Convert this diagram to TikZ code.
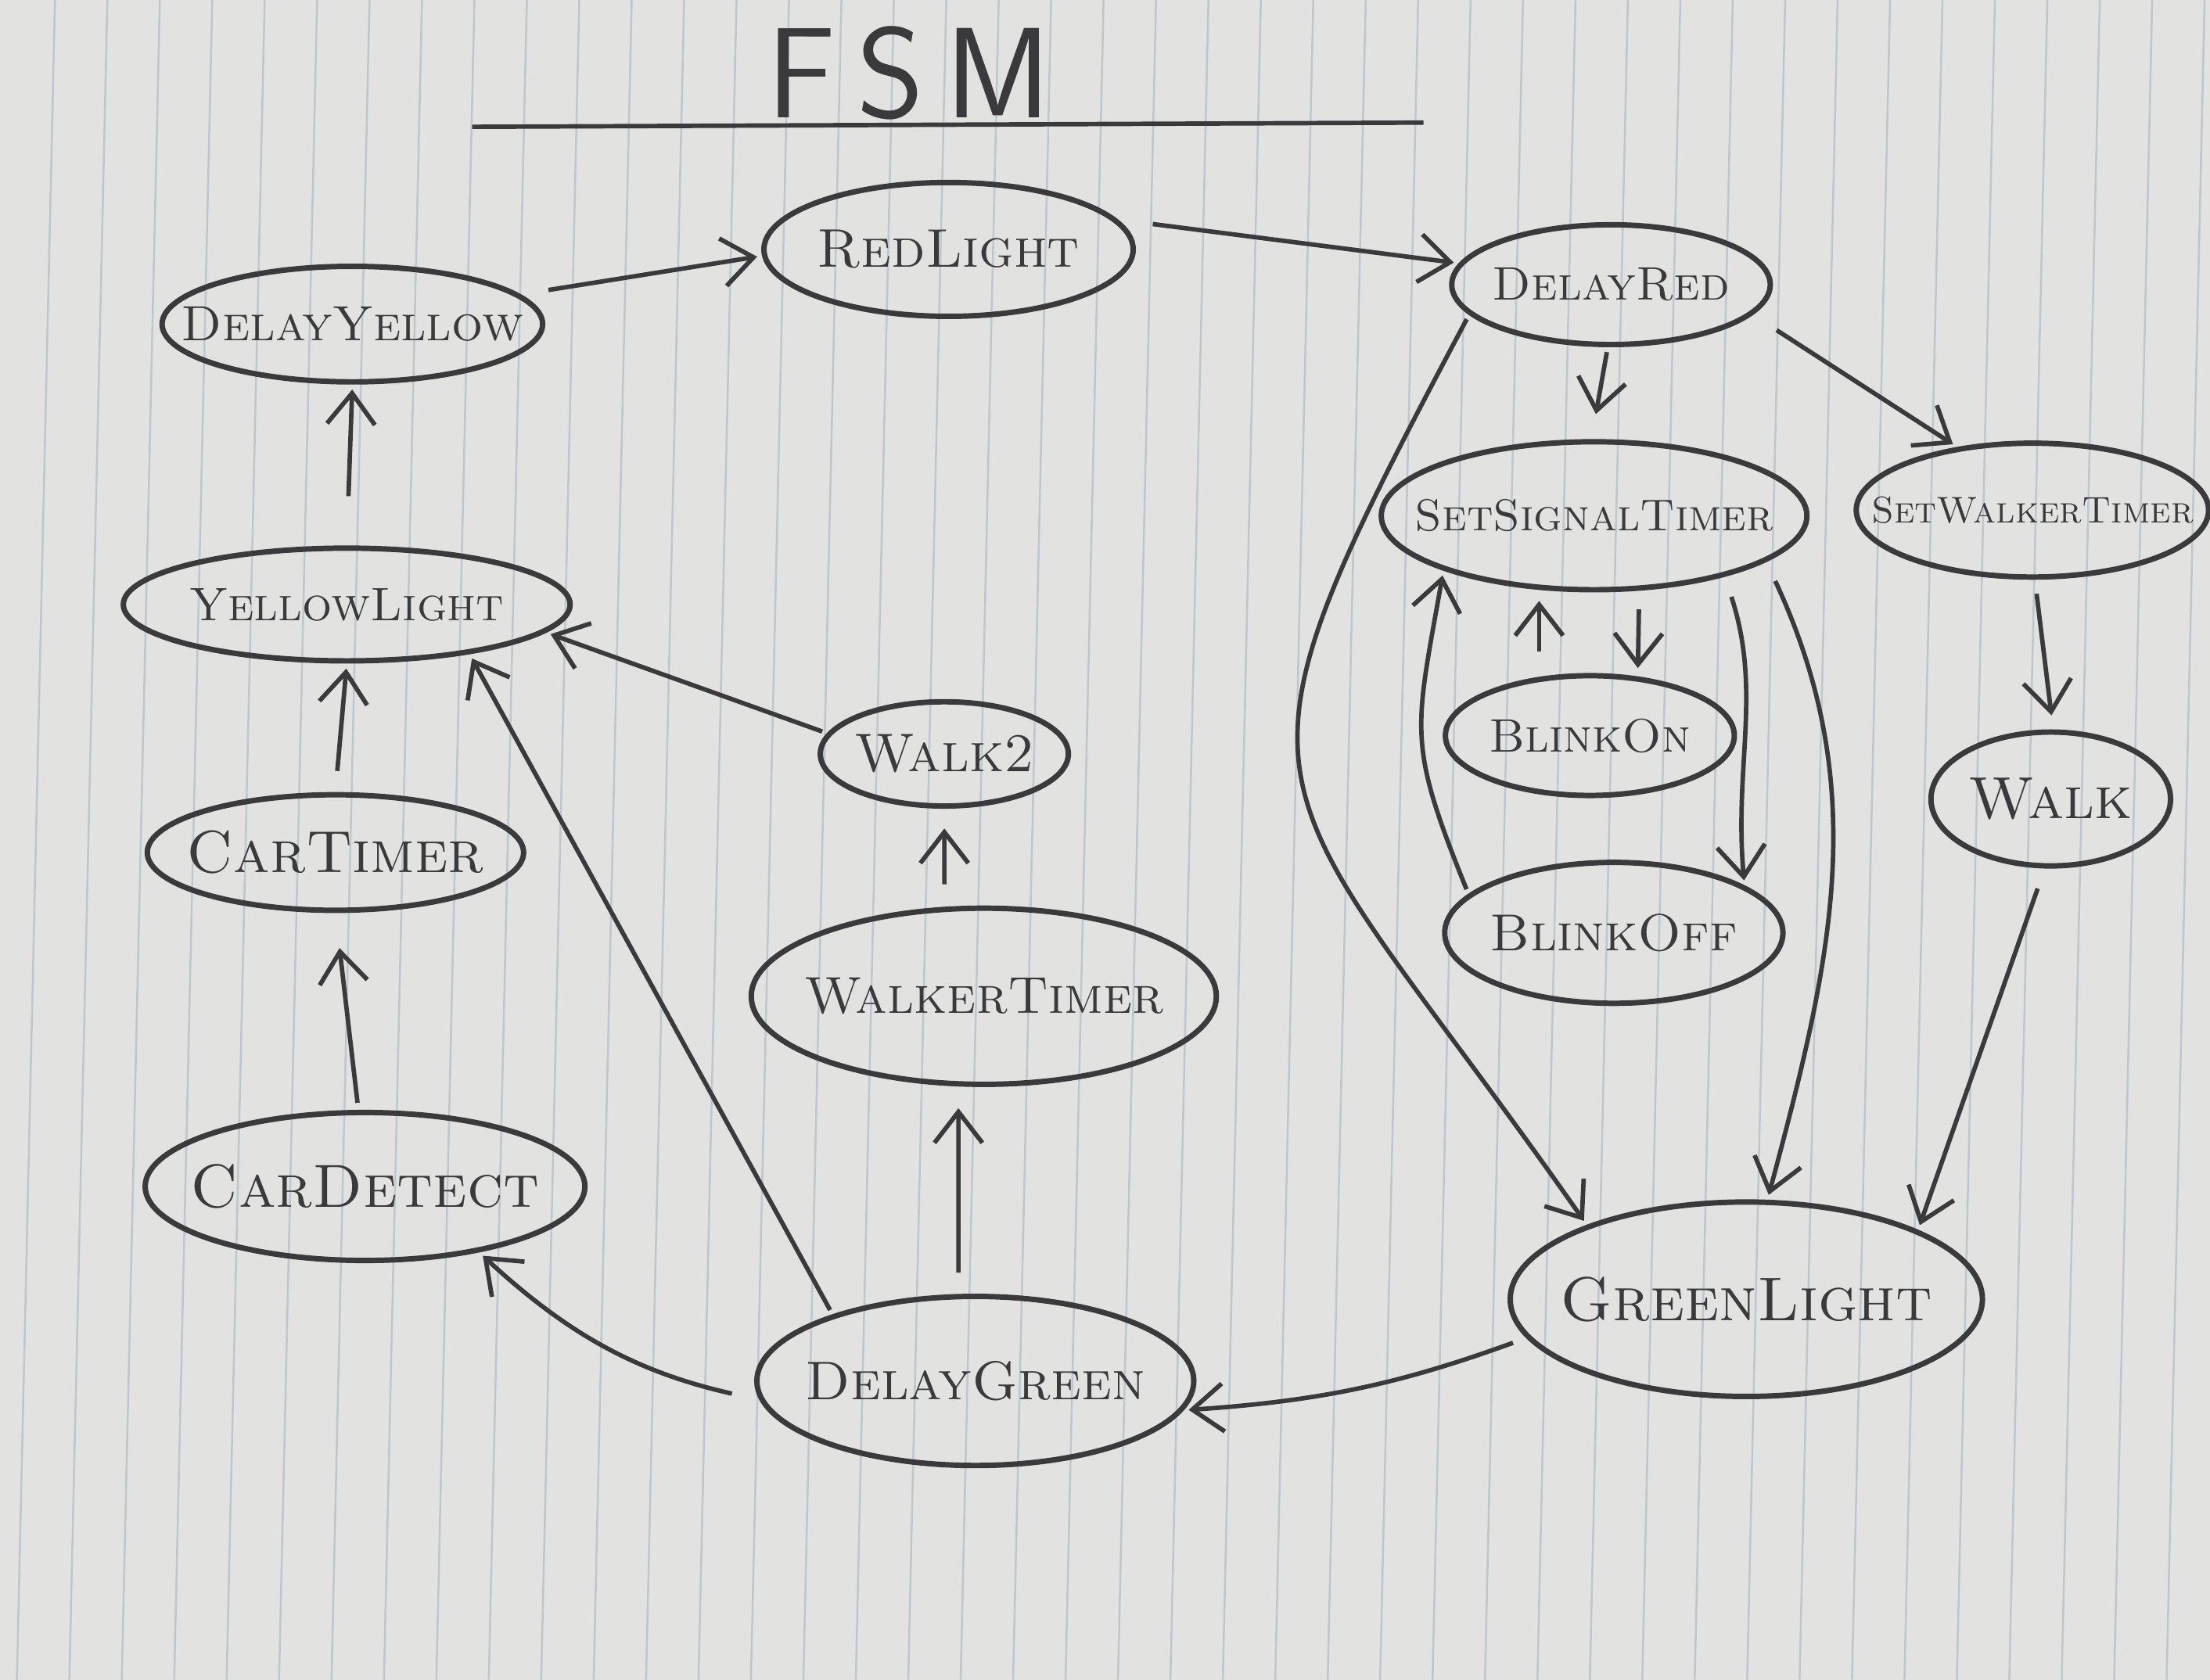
\documentclass[tikz,border=0pt]{standalone}
\usepackage{tikz}
\usetikzlibrary{shapes.geometric, arrows.meta}
\definecolor{ink}{RGB}{58,58,60}
\definecolor{paper}{RGB}{226,227,225}
\definecolor{rule}{RGB}{188,200,208}
\newcommand{\handfont}[1]{\fontsize{#1}{#1}\selectfont\scshape}
\newcommand{\sname}[1]{\makebox[0pt]{#1}}
\tikzset{
  fsmstate/.style={ellipse, draw=ink, line width=1.1pt, inner sep=0pt, text=ink},
  trans/.style={draw=ink, line width=0.9pt, -{Straight Barb[length=2.2mm, width=3.4mm]}, shorten <=1pt, shorten >=1pt}
}

\begin{document}
\begin{tikzpicture}
\useasboundingbox (0,0) rectangle (15.68,-11.92);
\fill[paper] (0,0) rectangle (15.68,-11.92);
\foreach \i in {0,...,41}
\draw[rule, line width=0.4pt] ({0.39+0.372*\i},0) -- ({0.12+0.372*\i},-11.92);

\node[text=ink, font=\fontsize{26}{26}\selectfont\sffamily] (title) at (6.45,-0.52) {F\hspace{1.5mm}S\hspace{1.5mm}M};
\draw[ink, line width=0.9pt] (3.35,-0.90) -- (10.10,-0.87);

\node[fsmstate, minimum width=2.62cm, minimum height=0.95cm, font=\handfont{11}] (redlight) at (6.73,-1.77) {\sname{RedLight}};
\node[fsmstate, minimum width=2.70cm, minimum height=0.82cm, font=\handfont{10}] (delayyellow) at (2.50,-2.30) {\sname{DelayYellow}};
\node[fsmstate, minimum width=2.26cm, minimum height=0.85cm, font=\handfont{9.5}] (delayred) at (11.43,-2.02) {\sname{DelayRed}};
\node[fsmstate, minimum width=3.02cm, minimum height=1.05cm, font=\handfont{9}] (setsignal) at (11.31,-3.66) {\sname{SetSignalTimer}};
\node[fsmstate, minimum width=2.50cm, minimum height=0.95cm, font=\handfont{7.5}] (setwalker) at (14.42,-3.62) {\sname{SetWalkerTimer}};
\node[fsmstate, minimum width=3.17cm, minimum height=0.80cm, font=\handfont{9.5}] (yellowlight) at (2.46,-4.29) {\sname{YellowLight}};
\node[fsmstate, minimum width=1.76cm, minimum height=0.74cm, font=\handfont{11}] (walk2) at (6.70,-5.35) {\sname{Walk2}};
\node[fsmstate, minimum width=2.05cm, minimum height=0.85cm, font=\handfont{9.5}] (blinkon) at (11.28,-5.22) {\sname{BlinkOn}};
\node[fsmstate, minimum width=1.70cm, minimum height=0.95cm, font=\handfont{12}] (walk) at (14.55,-5.67) {\sname{Walk}};
\node[fsmstate, minimum width=2.67cm, minimum height=0.82cm, font=\handfont{12}] (cartimer) at (2.38,-6.05) {\sname{CarTimer}};
\node[fsmstate, minimum width=2.40cm, minimum height=1.00cm, font=\handfont{10.5}] (blinkoff) at (11.45,-6.62) {\sname{BlinkOff}};
\node[fsmstate, minimum width=3.30cm, minimum height=1.25cm, font=\handfont{10.5}] (walkertimer) at (6.98,-7.07) {\sname{WalkerTimer}};
\node[fsmstate, minimum width=3.12cm, minimum height=1.05cm, font=\handfont{12.3}] (cardetect) at (2.59,-8.42) {\sname{CarDetect}};
\node[fsmstate, minimum width=3.35cm, minimum height=1.38cm, font=\handfont{12.5}] (greenlight) at (12.39,-9.22) {\sname{GreenLight}};
\node[fsmstate, minimum width=3.10cm, minimum height=1.20cm, font=\handfont{11}] (delaygreen) at (6.92,-9.80) {\sname{DelayGreen}};

\draw[trans, shorten <=3.5mm] (yellowlight.north) -- (delayyellow.south);
\draw[trans, shorten <=1.5mm] (cartimer.north) -- (yellowlight.south);
\draw[trans, shorten <=0.5mm, shorten >=2.5mm] (cardetect.95) -- (cartimer.south);
\draw[trans, shorten <=2mm] (delayyellow.10) -- (redlight.182);
\draw[trans, shorten <=2.5mm] (redlight.10) -- (delayred.172);
\draw[trans, shorten >=1.8mm] (delayred.-93) -- (setsignal.92);
\draw[trans, shorten <=2mm] (delayred.-12) -- (setwalker.140);
\draw[trans] (delayred.-168) to[out=-118, in=125, looseness=1.6] (greenlight.155);
\draw[trans, shorten <=1.5mm] (setsignal.-25) to[out=-72, in=95] (blinkoff.20);
\draw[trans, shorten <=1.5mm] (setsignal.-15) to[out=-65, in=75] (greenlight.78);
\draw[trans, shorten <=1.2mm] ([xshift=3.2mm]setsignal.south) -- ([xshift=3.4mm]blinkon.north);
\draw[trans, shorten <=1.5mm, shorten >=0.6mm] ([xshift=-3.6mm]blinkon.north) -- ([xshift=-3.9mm]setsignal.south);
\draw[trans] (blinkoff.165) to[out=112, in=-100, looseness=1.3] (setsignal.-160);
\draw[trans, shorten <=1mm, shorten >=1mm] (setwalker.-88) -- (walk.88);
\draw[trans, shorten <=1.5mm] (walk.-95) -- (greenlight.22);
\draw[trans, shorten <=1mm] (greenlight.190) to[bend left=8] (delaygreen.-8);
\draw[trans, shorten <=1.5mm, shorten >=1.5mm] ([xshift=-1.2mm]delaygreen.north) -- ([xshift=-1.8mm]walkertimer.south);
\draw[trans, shorten <=1.5mm, shorten >=1.4mm] ([xshift=-2.8mm]walkertimer.north) -- (walk2.south);
\draw[trans] (walk2.170) -- (yellowlight.-8);
\draw[trans] (delaygreen.155) -- (yellowlight.-22);
\draw[trans, shorten <=2mm] (delaygreen.185) to[bend left=15] (cardetect.-30);
\end{tikzpicture}
\end{document}
